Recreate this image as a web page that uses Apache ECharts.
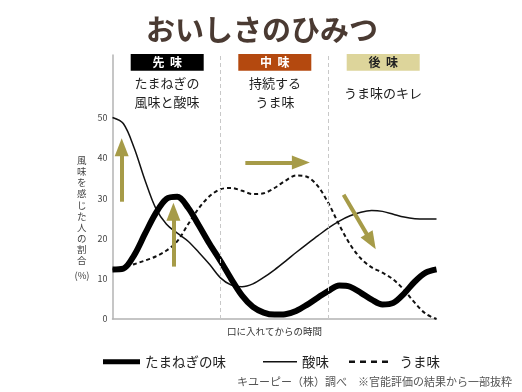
<!DOCTYPE html>
<html><head><meta charset="utf-8">
<script src="https://cdn.jsdelivr.net/npm/echarts@6/dist/echarts.min.js"></script>
<style>html,body{margin:0;padding:0;background:#fff}#c{width:522px;height:392px}</style>
</head><body><div id="c"></div>
<script>
// ---- data ----
const times  = [0,1,2,3,4,5,6,7,8,9,10,11,12,13,14,15,16,17,18,19,20,21,22,23,24,25,26,27,28,29,30];
const onion  = [12.3,12.5,15.8,21.1,26.2,29.8,30.3,27.6,23.2,18.6,14.4,9.9,5.8,3,1.6,1.1,1.2,2,3.5,5.3,7,8.3,8,6.5,4.8,3.6,4,6.3,9.3,11.5,12.3];
const sour   = [50,48.5,42.5,34.5,27.5,23.5,21.3,19.3,16.5,13.5,10.2,8.4,8,8.7,10.3,12.2,14.3,16.5,18.6,20.6,22.6,24.3,25.6,26.5,26.9,26.7,26,25.3,24.9,24.8,24.8];
const umami  = [12.3,12.8,13.6,14.5,15.5,17,19.3,23.5,27.5,30.5,32.2,32.5,31.8,31,31.2,32.5,34.3,35.6,35.3,33,28.7,23.3,18.5,15,12.8,11.5,9.8,7.2,4,1.3,0];
const yTicks = [0,10,20,30,40,50];
const seriesNames = ['たまねぎの味','酸味','うま味'];
const phaseDividers = [10,20];
const phaseLabels = ['先  味','中  味','後  味'];
const phaseNotes = ['たまねぎの\n風味と酸味','持続する\nうま味','うま味のキレ'];
// arrows: [tail, head-center] in data units
const arrows = [
  [[0.85,29.1],[0.85,42.6]],
  [[5.64,13.0],[5.64,26.6]],
  [[12.3,38.8],[17.44,38.8]],
  [[21.4,30.8],[23.95,19.2]]
];
const titleText = 'おいしさのひみつ';
const xName = '口に入れてからの時間';
const yName = '風味を感じた人の割合';
const sourceText = 'キユーピー（株）調べ　※官能評価の結果から一部抜粋';

const FONT = '"Noto Sans CJK JP","Noto Sans",sans-serif';
const pairs = ys => times.map((t,i)=>[t, ys[i]]);
const ARROW = '#a69b48';

const chart = echarts.init(document.getElementById('c'), null, {renderer:'canvas'});

const graphics = [
  {type:'text', x:262, y:30, style:{text:titleText, font:'bold 29px '+FONT, fill:'#4a3a32', align:'center', verticalAlign:'middle'}},
];
const boxX = [130.7, 238.3, 346.7];
const boxFill = ['#000000','#b4490f','#ddd59b'];
const boxText = ['#ffffff','#ffffff','#222222'];
const noteCX = [167, 275, 383];
phaseLabels.forEach((lab,i)=>{
  graphics.push({type:'rect', shape:{x:boxX[i], y:54, width:73, height:16.7}, style:{fill:boxFill[i]}});
  graphics.push({type:'text', x:boxX[i]+36.5, y:62.3, style:{text:lab, font:'bold 12px '+FONT, fill:boxText[i], align:'center', verticalAlign:'middle'}});
  const lines = phaseNotes[i].split('\n').length;
  graphics.push({type:'text', x:noteCX[i], y: lines===2 ? 92.5 : 93, style:{text:phaseNotes[i], font:'13px '+FONT, fill:'#222', align:'center', verticalAlign:'middle', lineHeight:19}});
});
graphics.push({type:'text', x:81.7, y:155, style:{text:yName.split('').join('\n'), font:'9.5px '+FONT, fill:'#444', align:'center', verticalAlign:'top', lineHeight:11.1}});
graphics.push({type:'text', x:82, y:275, style:{text:'(%)', font:'9.5px '+FONT, fill:'#444', align:'center', verticalAlign:'middle'}});
graphics.push({type:'text', x:512, y:382, style:{text:sourceText, font:'11px '+FONT, fill:'#555', align:'right', verticalAlign:'middle'}});

const arrowData = arrows.map(a=>[
  {coord:a[0], symbol:'none'},
  {coord:a[1], symbol:'triangle', symbolSize:[14,18]}
]);

const legendText = {fontSize:13.5, color:'#222', fontFamily:FONT};
const option = {
  animation:false,
  textStyle:{fontFamily:FONT},
  grid:{left:112.5, right:85.5, top:55, bottom:73},
  xAxis:{type:'value', min:0, max:30, interval:10,
    axisLine:{show:true, lineStyle:{color:'#b3b3b3', width:1.5}},
    axisTick:{show:false}, axisLabel:{show:false}, splitLine:{show:false},
    name:xName, nameLocation:'middle', nameGap:8,
    nameTextStyle:{fontSize:9.5, color:'#333', fontFamily:FONT}},
  yAxis:{type:'value', min:0, max:65.5, interval:10,
    axisLine:{show:true, lineStyle:{color:'#b3b3b3', width:1.5}},
    axisTick:{show:false}, splitLine:{show:false},
    axisLabel:{fontSize:9, color:'#444', margin:5, showMaxLabel:false,
      formatter:v=> yTicks.includes(v) ? String(v) : ''}},
  legend:[
    {data:[{name:seriesNames[0], icon:'rect'}], left:103, top:355, padding:0, itemWidth:37, itemHeight:5,
      textStyle:legendText},
    {data:[{name:seriesNames[1], icon:'rect'}], left:263, top:355, padding:0, itemWidth:34, itemHeight:1.5,
      textStyle:legendText},
    {data:[{name:seriesNames[2], icon:'path://M0,0h6v2.5h-6z M11,0h6v2.5h-6z M22,0h6v2.5h-6z M33,0h6v2.5h-6z'}], left:349, top:355, padding:0, itemWidth:40, itemHeight:2.5,
      textStyle:Object.assign({padding:[0,0,0,6]}, legendText)}
  ],
  graphic:graphics,
  series:[
    {name:seriesNames[1], type:'line', data:pairs(sour), smooth:0.33, symbol:'none',
      lineStyle:{color:'#111', width:1.5}, itemStyle:{color:'#111'}, z:2,
      markLine:{silent:true, symbol:'none', label:{show:false},
        lineStyle:{color:'#c8c8c8', type:[4,3], width:1},
        data: phaseDividers.map(v=>({xAxis:v}))}},
    {name:seriesNames[2], type:'line', data:pairs(umami), smooth:0.33, symbol:'none',
      lineStyle:{color:'#111', width:2, type:[4,3]}, itemStyle:{color:'#111'}, z:3},
    {name:seriesNames[0], type:'line', data:pairs(onion), smooth:0.33, symbol:'none',
      lineStyle:{color:'#000', width:6}, itemStyle:{color:'#000'}, z:4,
      markLine:{silent:true, label:{show:false}, symbol:['none','triangle'],
        lineStyle:{color:ARROW, width:4, type:'solid', opacity:1},
        itemStyle:{color:ARROW},
        data: arrowData}}
  ]
};
chart.setOption(option);
</script>
</body></html>
